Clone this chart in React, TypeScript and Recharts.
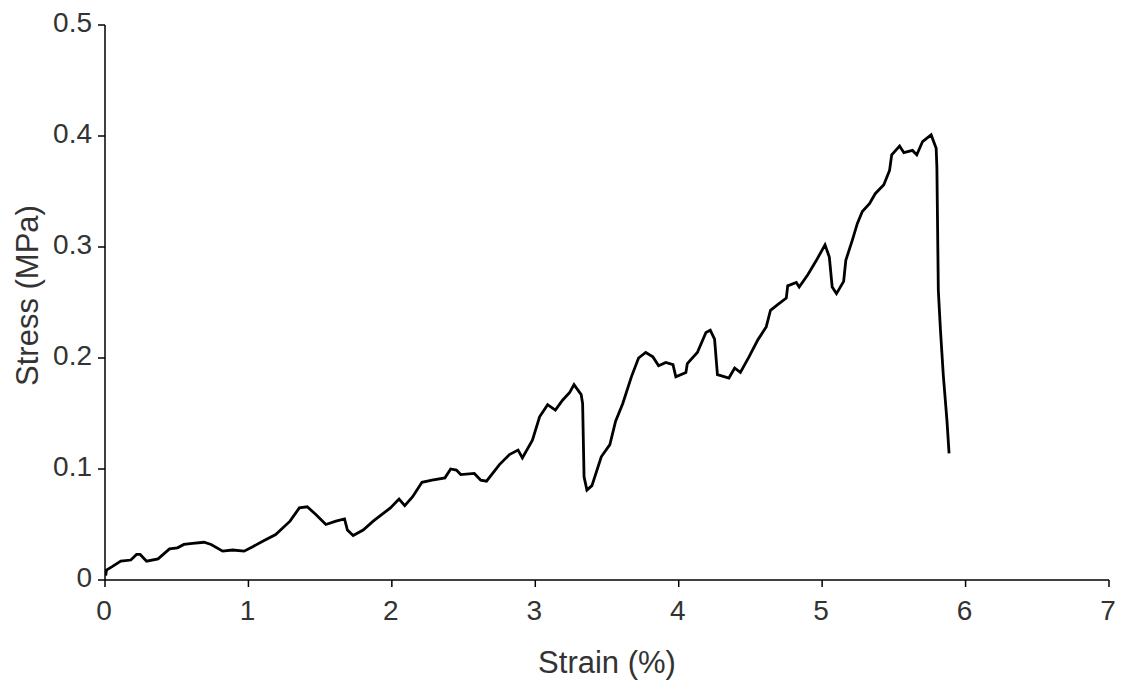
import { LineChart, Line, XAxis, YAxis } from 'recharts';

// Stress-strain curve
const STRAIN = [
  0.005, 0.01, 0.05, 0.11, 0.18, 0.22, 0.245, 0.29, 0.37, 0.45, 0.505, 0.55, 0.61, 0.69, 0.74, 0.82, 0.89, 0.97,
  1.03, 1.1, 1.19, 1.29, 1.355, 1.41, 1.47, 1.54, 1.61, 1.67, 1.69, 1.73, 1.8, 1.87, 1.94, 1.99,
  2.05, 2.09, 2.145, 2.21, 2.28, 2.37, 2.41, 2.45, 2.48, 2.575, 2.62, 2.66, 2.75, 2.82, 2.88, 2.91, 2.98,
  3.03, 3.086, 3.14, 3.19, 3.24, 3.27, 3.32, 3.33, 3.34, 3.36, 3.395, 3.46, 3.52, 3.56, 3.61, 3.67, 3.72, 3.77,
  3.82, 3.86, 3.91, 3.96, 3.98, 4.05, 4.06, 4.13, 4.19, 4.22, 4.25, 4.27, 4.35, 4.39, 4.43, 4.49, 4.55, 4.61,
  4.64, 4.69, 4.75, 4.76, 4.82, 4.84, 4.9, 4.96, 5.02, 5.05, 5.07, 5.1, 5.15, 5.165, 5.21, 5.245, 5.28, 5.33,
  5.37, 5.43, 5.47, 5.485, 5.54, 5.57, 5.63, 5.66, 5.7, 5.76, 5.795, 5.8, 5.81, 5.825, 5.845, 5.87, 5.885,
];
const STRESS = [
  0.004, 0.009, 0.012, 0.017, 0.018, 0.023, 0.023, 0.017, 0.019, 0.028, 0.029, 0.032, 0.033, 0.034, 0.032, 0.026, 0.027, 0.026,
  0.03, 0.035, 0.041, 0.053, 0.065, 0.066, 0.059, 0.05, 0.053, 0.055, 0.045, 0.04, 0.045, 0.053, 0.06, 0.065,
  0.073, 0.067, 0.075, 0.088, 0.09, 0.092, 0.1, 0.099, 0.095, 0.096, 0.09, 0.089, 0.104, 0.113, 0.117, 0.11, 0.126,
  0.147, 0.158, 0.153, 0.162, 0.169, 0.176, 0.167, 0.159, 0.093, 0.081, 0.085, 0.111, 0.122, 0.143, 0.159, 0.183, 0.2, 0.205,
  0.201, 0.193, 0.196, 0.194, 0.183, 0.187, 0.195, 0.205, 0.223, 0.225, 0.217, 0.185, 0.182, 0.191, 0.187, 0.201, 0.216, 0.228,
  0.243, 0.248, 0.254, 0.265, 0.268, 0.264, 0.275, 0.288, 0.302, 0.291, 0.264, 0.258, 0.269, 0.288, 0.306, 0.321, 0.332, 0.339,
  0.348, 0.356, 0.369, 0.383, 0.391, 0.385, 0.387, 0.383, 0.395, 0.401, 0.389, 0.372, 0.261, 0.225, 0.184, 0.144, 0.114,
];
const X_TICKS = [0, 1, 2, 3, 4, 5, 6, 7];
const Y_TICKS = [0, 0.1, 0.2, 0.3, 0.4, 0.5];

const FONT = '"Liberation Sans", Arial, sans-serif';
const TEXT_COLOR = '#333';

const rows = STRAIN.map((x, i) => ({ strain: x, stress: STRESS[i] }));

function XTick({ x, y, payload }: any) {
  return (
    <text x={x - 1} y={y + 21} textAnchor="middle" dominantBaseline="central" fontFamily={FONT} fontSize={28} fill={TEXT_COLOR}>
      {payload.value}
    </text>
  );
}

function YTick({ x, y, payload }: any) {
  const v = payload.value as number;
  return (
    <text x={x - 4} y={y - 3} textAnchor="end" dominantBaseline="central" fontFamily={FONT} fontSize={28} fill={TEXT_COLOR}>
      {v === 0 ? '0' : v.toFixed(1)}
    </text>
  );
}

function YLabel({ viewBox }: any) {
  const cy = viewBox.y + viewBox.height / 2 - 7;
  return (
    <text
      x={27}
      y={cy}
      transform={`rotate(-90, 27, ${cy})`}
      textAnchor="middle"
      dominantBaseline="central"
      fontFamily={FONT}
      fontSize={31}
      fill={TEXT_COLOR}
    >
      Stress (MPa)
    </text>
  );
}

function XLabel({ viewBox }: any) {
  const cx = viewBox.x + viewBox.width / 2;
  return (
    <text x={cx} y={662} textAnchor="middle" dominantBaseline="central" fontFamily={FONT} fontSize={31} fill={TEXT_COLOR}>
      Strain (%)
    </text>
  );
}

export default function App() {
  return (
    <div style={{ position: 'absolute', left: 0, top: 0, background: '#fff' }}>
      <LineChart width={1122} height={686} data={rows} margin={{ top: 25, right: 13, left: 45, bottom: 76 }}>
        <XAxis
          dataKey="strain"
          type="number"
          domain={[0, 7]}
          ticks={X_TICKS}
          interval={0}
          allowDataOverflow
          stroke="#000"
          strokeWidth={1.5}
          tickSize={7}
          tick={<XTick />}
          label={<XLabel />}
        />
        <YAxis
          type="number"
          domain={[0, 0.5]}
          ticks={Y_TICKS}
          interval={0}
          width={60}
          stroke="#000"
          strokeWidth={1.5}
          tickSize={7}
          tick={<YTick />}
          label={<YLabel />}
        />
        <Line
          type="linear"
          dataKey="stress"
          stroke="#000"
          strokeWidth={2.8}
          dot={false}
          activeDot={false}
          isAnimationActive={false}
        />
      </LineChart>
    </div>
  );
}
